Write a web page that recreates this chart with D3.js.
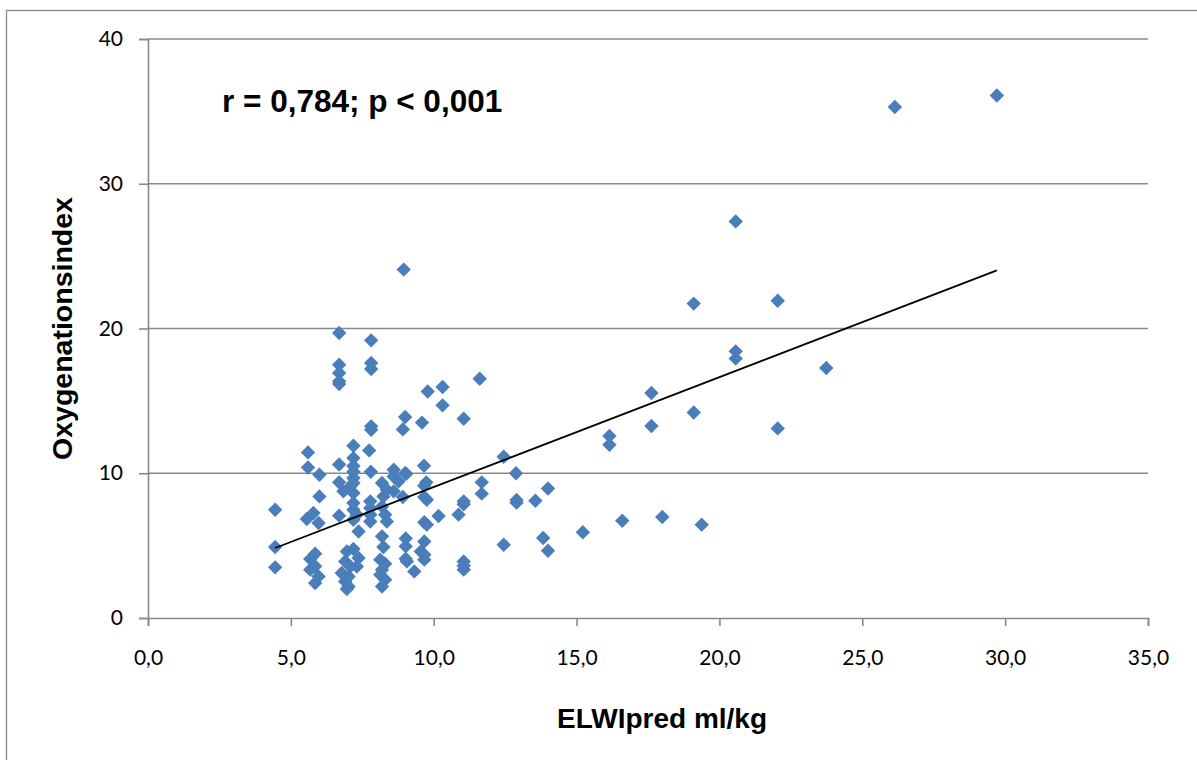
<!DOCTYPE html>
<html>
<head>
<meta charset="utf-8">
<script src="https://cdn.jsdelivr.net/npm/d3@7"></script>
<style>
  html, body { margin: 0; padding: 0; background: #fff; }
  svg { display: block; }
</style>
</head>
<body>
<svg id="chart" width="1197" height="760"></svg>
<script>
// ELWIpred (ml/kg) against oxygenation index, one pair per patient
const elwiValues = [
  26.14, 29.71, 20.57, 19.1, 22.04, 20.57, 20.57, 23.74, 17.62, 17.62, 19.1, 22.04, 16.15, 16.15,
  19.38, 18.0, 16.6, 15.22, 14.0, 13.83, 14.0, 13.56, 12.45, 12.88, 12.9, 12.9, 12.45,
  11.61, 9.79, 10.31, 10.31, 9.59, 11.05, 9.0, 8.92, 9.66, 9.04, 9.74, 9.67, 11.68, 11.68,
  8.92, 9.67, 9.76, 11.05, 11.05, 10.17, 10.87, 9.67, 9.76, 9.02, 9.02, 9.67, 9.55, 9.67,
  9.67, 9.02, 9.06, 9.32, 11.05, 11.05, 11.05, 8.95,
  6.69, 7.81, 6.69, 6.69, 6.69, 6.69, 7.81, 7.81, 7.81, 7.81, 5.6, 7.19, 7.19, 7.74, 5.6,
  6.69, 6.0, 7.19, 7.19, 7.19, 7.19, 7.8, 8.6, 8.6, 9.0, 8.77, 6.69, 6.84, 7.08, 7.19,
  8.19, 8.36, 8.24, 8.6, 6.0, 4.45, 7.19, 7.19, 7.31, 7.19, 7.78, 7.78, 7.78, 7.78,
  8.19, 8.3, 8.36, 6.69, 5.79, 5.56, 5.97, 7.37, 4.45, 4.45, 5.85, 5.68, 5.85, 5.68,
  5.97, 5.85, 6.96, 7.19, 7.37, 6.9, 7.08, 7.31, 6.78, 7.02, 6.9, 7.02, 6.96,
  8.19, 8.24, 8.13, 8.3, 8.19, 8.13, 8.3, 8.19
];
const oxygenationValues = [
  35.3, 36.1, 27.4, 21.72, 21.92, 18.42, 17.92, 17.27, 15.54, 13.26, 14.2, 13.1, 12.58, 11.97,
  6.45, 6.98, 6.72, 5.92, 4.65, 5.53, 8.95, 8.1, 11.14, 10.0, 8.15, 7.97, 5.06,
  16.53, 15.65, 15.96, 14.69, 13.5, 13.77, 13.89, 13.03, 10.52, 9.97, 9.37, 9.14, 9.37, 8.59,
  8.36, 8.36, 8.17, 8.06, 7.86, 7.05, 7.14, 6.62, 6.45, 5.5, 4.95, 5.29, 4.6, 4.37,
  4.03, 4.1, 3.91, 3.22, 3.91, 3.61, 3.34, 24.07,
  19.69, 19.18, 17.5, 16.93, 16.35, 16.17, 17.62, 17.2, 13.24, 13.0, 11.44, 11.9, 11.05, 11.58, 10.4,
  10.6, 9.9, 10.5, 10.1, 9.67, 9.33, 10.1, 10.25, 9.78, 10.0, 9.44, 9.37, 8.75, 9.09, 8.64,
  9.33, 8.86, 8.4, 8.75, 8.4, 7.48, 7.94, 7.48, 7.14, 6.79, 8.06, 7.6, 7.14, 6.67,
  7.71, 7.14, 6.67, 7.07, 7.25, 6.84, 6.56, 5.98, 4.9, 3.5, 4.44, 4.08, 3.57, 3.34,
  2.87, 2.42, 4.6, 4.77, 4.14, 3.91, 3.56, 3.56, 3.11, 2.87, 2.53, 2.18, 2.0,
  5.64, 4.9, 4.03, 3.75, 3.34, 2.99, 2.65, 2.18
];

// Linear trend line (least-squares fit) and its x extent
const trendIntercept = 1.46;
const trendSlope = 0.759;
const trendRange = [4.45, 29.71];

// Axis ticks
const xTicks = [0, 5, 10, 15, 20, 25, 30, 35];
const yTicks = [0, 10, 20, 30, 40];

const annotationText = "r = 0,784; p < 0,001";
const xTitle = "ELWIpred ml/kg";
const yTitle = "Oxygenationsindex";

const points = elwiValues.map((x, i) => ({ x, y: oxygenationValues[i] }));

const svg = d3.select("#chart");
const plot = { left: 148, right: 1148, top: 39, bottom: 618 };

const x = d3.scaleLinear().domain([0, 35]).range([plot.left, plot.right]);
const y = d3.scaleLinear().domain([0, 40]).range([plot.bottom, plot.top]);

const gridColor = "#898989";
const tickFont = "Lato, 'Open Sans', sans-serif";
const titleFont = "'Liberation Sans', Arial, sans-serif";
const fmt = v => d3.format(".1f")(v).replace(".", ",");

// Outer chart frame
svg.append("rect")
  .attr("x", 6.5).attr("y", 10.5)
  .attr("width", 1220).attr("height", 800)
  .attr("fill", "none").attr("stroke", gridColor).attr("stroke-width", 1.3);

// Horizontal gridlines
svg.append("g")
  .selectAll("line")
  .data(yTicks.filter(t => t > 0))
  .join("line")
  .attr("x1", plot.left).attr("x2", plot.right)
  .attr("y1", d => y(d)).attr("y2", d => y(d))
  .attr("stroke", gridColor).attr("stroke-width", 1.6);

// Y axis
const yAxis = svg.append("g")
  .attr("transform", `translate(${plot.left},0)`)
  .call(d3.axisLeft(y).tickValues(yTicks).tickSize(9).tickPadding(16).tickFormat(d3.format("d")));
yAxis.select(".domain").attr("stroke", gridColor).attr("stroke-width", 1.6);
yAxis.selectAll(".tick line").attr("stroke", gridColor).attr("stroke-width", 1.6);
yAxis.selectAll(".tick text")
  .attr("font-family", tickFont).attr("font-size", 21).attr("fill", "#000");

// X axis
const xAxis = svg.append("g")
  .attr("transform", `translate(0,${plot.bottom})`)
  .call(d3.axisBottom(x).tickValues(xTicks).tickSize(8).tickPadding(24).tickFormat(fmt));
xAxis.select(".domain").attr("stroke", gridColor).attr("stroke-width", 1.6);
xAxis.selectAll(".tick line").attr("stroke", gridColor).attr("stroke-width", 1.6);
xAxis.selectAll(".tick text")
  .attr("font-family", tickFont).attr("font-size", 21).attr("fill", "#000");

// Diamond markers
const r = 7.2;
const diamond = `M0,${-r}L${r},0L0,${r}L${-r},0Z`;
svg.append("g")
  .selectAll("path")
  .data(points)
  .join("path")
  .attr("d", diamond)
  .attr("transform", d => `translate(${x(d.x)},${y(d.y)})`)
  .attr("fill", "#4a7ebb");

// Trend line
svg.append("line")
  .attr("x1", x(trendRange[0])).attr("y1", y(trendIntercept + trendSlope * trendRange[0]))
  .attr("x2", x(trendRange[1])).attr("y2", y(trendIntercept + trendSlope * trendRange[1]))
  .attr("stroke", "#000").attr("stroke-width", 1.8);

// Correlation annotation
svg.append("text")
  .attr("x", 222).attr("y", 112)
  .attr("font-family", titleFont).attr("font-weight", "bold").attr("font-size", 31.5)
  .attr("fill", "#000")
  .text(annotationText);

// Axis titles
svg.append("text")
  .attr("x", 662).attr("y", 728)
  .attr("text-anchor", "middle")
  .attr("font-family", titleFont).attr("font-weight", "bold").attr("font-size", 28)
  .attr("fill", "#000")
  .text(xTitle);

svg.append("text")
  .attr("transform", `translate(72,${(plot.top + plot.bottom) / 2}) rotate(-90)`)
  .attr("text-anchor", "middle")
  .attr("font-family", titleFont).attr("font-weight", "bold").attr("font-size", 28.5)
  .attr("fill", "#000")
  .text(yTitle);
</script>
</body>
</html>
